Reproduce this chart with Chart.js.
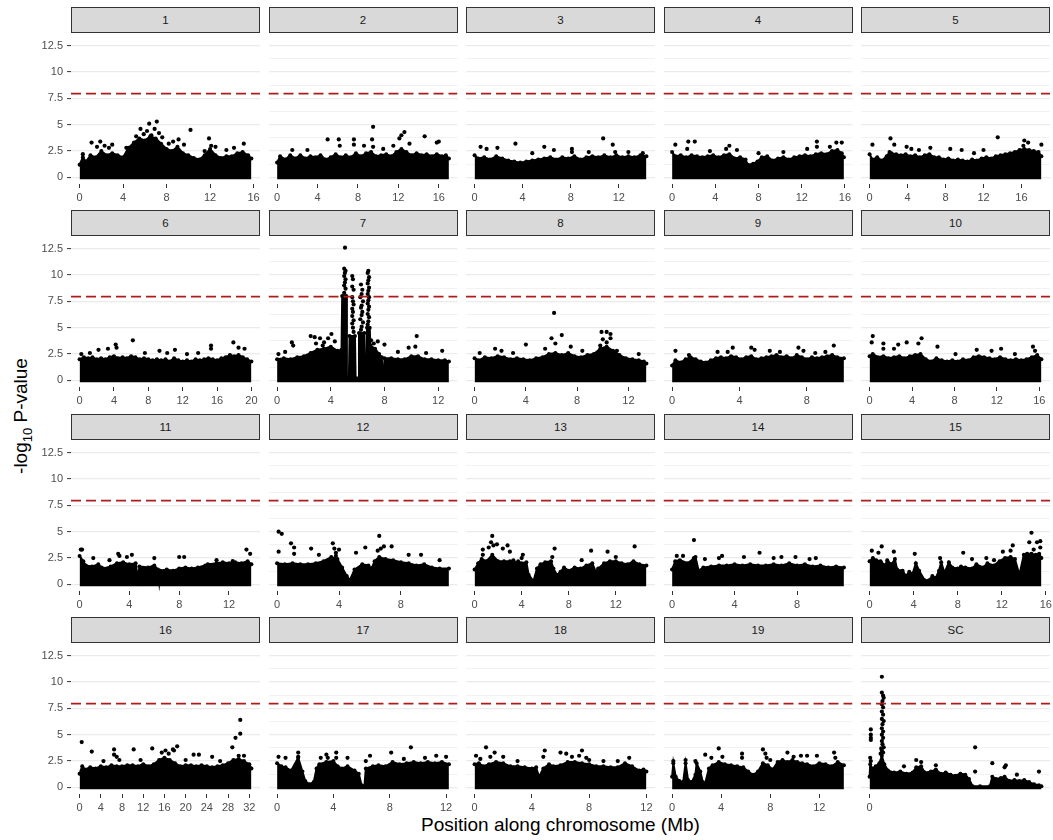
<!DOCTYPE html>
<html>
<head>
<meta charset="utf-8">
<script src="https://cdn.jsdelivr.net/npm/chart.js@4.4.1/dist/chart.umd.min.js"></script>
<style>
  html, body { margin: 0; padding: 0; background: #fff; }
  body { width: 1053px; height: 840px; position: relative; overflow: hidden;
         font-family: "Liberation Sans", Arial, sans-serif; }
  .strip { position: absolute; box-sizing: border-box; background: #D9D9D9;
           border: 1px solid #333; color: #1A1A1A; font-size: 11.5px;
           text-align: center; line-height: 24px; }
  canvas { position: absolute; }
  .xtitle { position: absolute; left: 71px; width: 979px; top: 814px;
            text-align: center; font-size: 19px; color: #000; }
  .ytitle { position: absolute; left: -128px; top: 404px; width: 300px; height: 24px;
            text-align: center; font-size: 19px; color: #000; transform: rotate(-90deg); }
  .ytitle sub { font-size: 13px; }
</style>
</head>
<body>
<div class="ytitle">-log<sub>10</sub> P-value</div>
<div class="xtitle">Position along chromosome (Mb)</div>
<script>
// Facettes : un panneau par chromosome
const chrNames = ['1', '2', '3', '4', '5', '6', '7', '8', '9', '10',
                  '11', '12', '13', '14', '15', '16', '17', '18', '19', 'SC'];
const chrLength = [15.8, 17.0, 14.3, 15.9, 18.1, 20.0, 12.8, 13.4, 10.2, 16.2,
                   13.8, 11.1, 14.6, 11.0, 15.6, 32.4, 12.2, 12.0, 14.0, 14.0];
const chrTicks = [
  [0, 4, 8, 12, 16], [0, 4, 8, 12, 16], [0, 4, 8, 12], [0, 4, 8, 12, 16], [0, 4, 8, 12, 16],
  [0, 4, 8, 12, 16, 20], [0, 4, 8, 12], [0, 4, 8, 12], [0, 4, 8], [0, 4, 8, 12, 16],
  [0, 4, 8, 12], [0, 4, 8], [0, 4, 8, 12], [0, 4, 8], [0, 4, 8, 12, 16],
  [0, 4, 8, 12, 16, 20, 24, 28, 32], [0, 4, 8, 12], [0, 4, 8, 12], [0, 4, 8, 12], [0]
];
const yTicks = [0, 1.25, 2.5, 3.75, 5, 6.25, 7.5, 8.75, 10, 11.25, 12.5];
const threshold = 7.95;

// Masse dense de SNP : hauteur du nuage [Mb, -log10 p]
const bandTop = [
  [[0,1.2],[0.3,1.9],[0.6,1.5],[1,2.1],[1.5,1.9],[2,2.5],[2.5,2.1],[3,2.3],[3.5,2.1],[4,1.9],[4.5,2.8],[5,3.3],[5.5,3.7],[6,3.5],[6.5,3.9],[7,3.7],[7.5,3.2],[8,2.7],[8.5,2.5],[9,2.9],[9.5,2.3],[10,2.1],[10.5,1.85],[11,1.7],[11.5,2.1],[12,2.7],[12.5,2.1],[13,1.85],[13.5,2.0],[14,2.0],[14.5,2.3],[15,2.4],[15.5,2.1],[15.8,1.8]],
  [[0,1.4],[0.3,2.0],[0.8,1.7],[1.3,2.1],[1.8,1.8],[2.3,2.1],[2.8,1.8],[3.3,2.0],[3.8,1.9],[4.3,2.1],[4.8,1.7],[5.3,1.9],[5.8,2.2],[6.3,1.9],[6.8,2.1],[7.3,1.9],[7.8,2.3],[8.3,2.0],[8.8,2.3],[9.3,2.4],[9.8,2.0],[10.3,2.1],[10.8,2.2],[11.3,2.0],[11.8,2.4],[12.3,2.7],[12.8,2.4],[13.3,2.1],[13.8,2.3],[14.3,2.1],[14.8,2.2],[15.3,2.0],[15.8,2.2],[16.3,2.0],[16.7,2.1],[17.0,1.8]],
  [[0,2.1],[0.3,1.8],[0.8,1.9],[1.3,1.7],[1.8,2.0],[2.3,1.8],[2.8,1.6],[3.3,1.5],[3.8,1.4],[4.3,1.5],[4.8,1.6],[5.3,1.7],[5.8,1.8],[6.3,1.9],[6.8,1.7],[7.3,1.9],[7.8,1.8],[8.3,2.0],[8.8,1.7],[9.3,1.9],[9.8,2.0],[10.3,1.9],[10.8,2.1],[11.3,1.9],[11.8,2.1],[12.3,1.9],[12.8,2.0],[13.3,1.9],[13.8,2.1],[14.3,2.0]],
  [[0,2.4],[0.3,2.0],[0.8,2.1],[1.3,1.9],[1.8,2.1],[2.3,2.0],[2.8,1.9],[3.3,2.0],[3.8,2.1],[4.3,1.9],[4.8,2.1],[5.3,2.2],[5.8,1.8],[6.3,1.9],[6.8,1.7],[7.0,1.2],[7.5,1.3],[7.9,1.5],[8.3,1.9],[8.8,2.0],[9.3,1.6],[9.8,1.8],[10.3,1.9],[10.8,1.7],[11.3,1.9],[11.8,2.0],[12.3,2.1],[12.8,2.0],[13.3,2.2],[13.8,2.3],[14.3,2.2],[14.8,2.5],[15.3,2.6],[15.7,2.3],[15.9,1.9]],
  [[0,2.2],[0.3,1.7],[0.8,1.9],[1.3,1.6],[1.8,2.0],[2.1,2.4],[2.3,2.3],[2.8,2.2],[3.3,2.1],[3.8,2.2],[4.3,2.0],[4.8,2.1],[5.3,1.9],[5.8,2.1],[6.3,2.2],[6.8,1.9],[7.3,1.9],[7.8,1.7],[8.3,1.8],[8.8,1.6],[9.3,1.7],[9.8,1.6],[10.3,1.5],[10.8,1.7],[11.3,1.6],[11.8,1.8],[12.3,1.9],[12.8,1.8],[13.3,2.0],[13.8,2.1],[14.3,2.2],[14.8,2.3],[15.3,2.4],[15.8,2.6],[16.3,2.7],[16.8,2.6],[17.3,2.5],[17.8,2.4],[18.1,2.0]],
  [[0,2.0],[0.5,2.2],[1,2.1],[1.5,2.2],[2,2.0],[2.5,2.1],[3,2.0],[3.5,2.2],[4,2.3],[4.5,2.1],[5,2.2],[5.5,2.1],[6,2.3],[6.5,2.2],[7,2.0],[7.5,2.1],[8,2.0],[8.5,1.9],[9,2.0],[9.5,1.9],[10,2.0],[10.5,1.8],[11,2.1],[11.5,1.9],[12,1.8],[12.5,1.9],[13,1.8],[13.5,2.0],[14,1.9],[14.5,2.0],[15,2.1],[15.5,2.0],[16,1.9],[16.5,2.1],[17,2.2],[17.5,2.4],[18,2.3],[18.5,2.4],[19,2.2],[19.5,2.0],[20,1.8]],
  [[0,2.0],[0.5,2.1],[1,2.0],[1.5,2.2],[2,2.3],[2.5,2.6],[3,2.9],[3.5,3.0],[4,3.2],[4.5,2.8],[4.8,2.9],[4.85,8.0],[5.15,8.0],[5.2,0.2],[5.35,0.2],[5.4,4.2],[5.8,4.2],[5.85,0.2],[6.05,0.2],[6.1,4.5],[6.5,4.5],[6.55,0.3],[6.65,0.3],[6.7,5.0],[6.9,5.0],[6.95,3.3],[7.3,3.0],[7.6,2.5],[7.8,2.2],[7.85,0.8],[7.95,0.8],[8.0,2.1],[8.5,2.1],[9,2.0],[9.5,2.0],[10,2.3],[10.5,2.3],[11,2.0],[11.5,2.0],[12,1.9],[12.5,1.9],[12.8,1.8]],
  [[0,2.1],[0.3,1.9],[0.8,2.2],[1.3,2.1],[1.8,2.3],[2.3,2.2],[2.8,2.0],[3.3,2.1],[3.8,2.0],[4.3,1.9],[4.8,2.1],[5.3,2.2],[5.8,2.5],[6.3,2.6],[6.8,2.4],[7.3,2.6],[7.8,2.3],[8.3,2.2],[8.8,2.4],[9.3,2.5],[9.8,3.0],[10.3,3.2],[10.8,2.8],[11.3,2.4],[11.8,2.1],[12.3,2.0],[12.8,1.9],[13.2,1.8],[13.4,1.6]],
  [[0,1.4],[0.2,1.9],[0.5,1.7],[0.8,2.0],[1.1,2.2],[1.4,2.0],[1.7,1.8],[2.0,1.7],[2.3,1.9],[2.6,2.1],[2.9,2.2],[3.2,2.1],[3.5,2.3],[3.8,2.2],[4.1,2.0],[4.4,2.2],[4.7,2.3],[5.0,2.0],[5.3,2.1],[5.6,2.2],[5.9,2.3],[6.2,2.4],[6.5,2.2],[6.8,2.3],[7.1,2.1],[7.4,2.4],[7.7,2.2],[8.0,2.0],[8.3,2.2],[8.6,2.1],[8.9,2.2],[9.2,2.3],[9.5,2.4],[9.8,2.2],[10.2,2.1]],
  [[0,2.3],[0.3,2.5],[0.8,2.2],[1.3,2.3],[1.8,2.1],[2.3,2.2],[2.8,2.3],[3.3,2.1],[3.8,2.3],[4.3,2.4],[4.8,2.5],[5.3,2.0],[5.8,1.8],[6.3,2.1],[6.8,1.9],[7.3,1.8],[7.8,1.9],[8.3,1.8],[8.8,2.0],[9.3,1.9],[9.8,2.2],[10.3,2.3],[10.8,2.2],[11.3,2.1],[11.8,2.0],[12.3,2.2],[12.8,2.0],[13.3,1.9],[13.8,2.0],[14.3,1.9],[14.8,2.0],[15.3,2.2],[15.8,2.4],[16.2,2.0]],
  [[0,2.7],[0.3,2.2],[0.5,1.8],[1.0,1.7],[1.5,1.9],[1.75,1.6],[1.8,0.1],[1.9,1.5],[2.5,1.7],[3.0,2.0],[3.5,2.1],[4.0,1.9],[4.5,2.0],[4.7,0.5],[4.8,1.7],[5.5,1.6],[6.0,1.8],[6.3,1.4],[6.4,0.2],[6.5,1.3],[7.0,1.4],[7.5,1.3],[8.0,1.5],[8.5,1.6],[9.0,1.5],[9.5,1.6],[10.1,1.8],[10.2,0.3],[10.3,1.9],[11.0,2.0],[11.5,2.1],[12.0,2.0],[12.5,2.1],[13.0,2.0],[13.5,2.2],[13.8,1.9]],
  [[0,2.0],[0.5,1.9],[1,2.0],[1.5,1.9],[2,1.9],[2.5,2.0],[3,2.2],[3.5,2.6],[3.9,2.4],[4.2,1.6],[4.5,0.8],[4.7,0.4],[5.0,1.4],[5.5,1.9],[5.9,1.8],[6.1,1.5],[6.3,2.2],[6.6,2.6],[7,2.4],[7.5,2.3],[8,2.1],[8.5,2.0],[9,1.8],[9.5,1.9],[10,1.6],[10.5,1.5],[11.1,1.5]],
  [[0,1.4],[0.3,2.0],[0.6,2.4],[1,2.2],[1.5,2.8],[2,2.2],[2.5,2.2],[3,2.2],[3.3,2.3],[3.5,2.0],[3.7,2.2],[4.0,2.0],[4.4,2.1],[4.6,0.9],[5.0,0.3],[5.3,1.5],[5.6,1.9],[6.0,2.1],[6.5,2.2],[6.7,1.5],[7.0,0.9],[7.3,1.2],[7.6,1.6],[8.0,1.3],[8.5,1.6],[9,1.5],[9.5,1.8],[10,2.0],[10.3,1.2],[10.5,1.5],[11,2.0],[11.5,2.2],[12,2.2],[12.5,2.0],[13,1.9],[13.5,2.2],[14,1.9],[14.6,1.8]],
  [[0,1.4],[0.2,2.2],[0.5,2.3],[1.0,2.0],[1.5,2.6],[1.7,1.3],[2.0,1.6],[2.5,1.7],[3.0,1.8],[3.5,1.8],[4,1.9],[4.5,1.8],[5,1.9],[5.5,1.8],[6,1.8],[6.5,1.9],[7,1.8],[7.5,2.0],[8,1.8],[8.5,1.9],[9,1.7],[9.5,1.8],[10,1.6],[10.5,1.7],[11,1.6]],
  [[0,2.2],[0.3,2.5],[0.6,2.3],[1,2.2],[1.4,1.8],[1.6,2.3],[2,1.9],[2.3,2.4],[2.5,1.4],[3,1.3],[3.3,0.8],[3.6,1.2],[3.9,1.0],[4.2,2.0],[4.5,1.3],[5.0,0.4],[5.4,0.4],[5.7,0.8],[6.0,0.6],[6.3,1.3],[6.5,2.1],[6.8,1.1],[7.2,2.1],[7.5,1.6],[8,1.5],[8.3,1.7],[8.7,1.6],[9.3,1.5],[9.7,1.9],[10.3,1.6],[10.7,2.0],[11.3,1.8],[11.8,2.2],[12.3,2.5],[12.8,2.6],[13.2,2.4],[13.6,0.9],[14.0,2.8],[14.3,2.9],[14.7,2.9],[15.1,2.8],[15.4,2.9],[15.6,2.5]],
  [[0,1.3],[0.5,2.0],[1,1.7],[2,1.9],[3,1.8],[4,2.0],[5,1.9],[6,2.1],[7,2.0],[8,2.0],[9,2.1],[10,2.1],[11,2.0],[12,2.2],[13,2.0],[14,2.2],[15,2.6],[16,2.8],[17,2.6],[18,2.3],[19,2.0],[20,2.1],[21,2.1],[22,2.0],[23,2.1],[24,2.0],[25,1.9],[26,2.0],[27,2.1],[28,2.3],[29,2.6],[30,2.7],[31,2.5],[32,2.2],[32.4,1.8]],
  [[0,2.3],[0.3,2.0],[0.6,1.9],[1.0,1.6],[1.5,2.8],[1.8,1.5],[2.0,0.6],[2.3,0.3],[2.6,0.5],[2.8,1.8],[3.0,2.2],[3.5,2.4],[4.0,2.5],[4.3,2.0],[4.6,1.8],[5.0,2.0],[5.5,1.6],[5.8,1.3],[6.0,0.2],[6.2,0.1],[6.3,1.8],[6.8,2.0],[7.2,2.1],[7.7,2.0],[8.2,2.4],[8.7,2.2],[9.2,2.3],[9.7,2.4],[10.2,2.3],[10.7,2.4],[11.2,2.3],[11.7,2.4],[12.2,2.2]],
  [[0,2.2],[0.3,2.3],[0.6,2.0],[1,2.2],[1.5,2.4],[2,2.3],[2.5,2.0],[3,2.0],[3.5,1.9],[4,1.8],[4.3,1.9],[4.5,1.0],[4.8,1.8],[5.2,2.2],[5.5,2.0],[6,2.1],[6.5,2.4],[7,2.4],[7.5,2.3],[8,2.2],[8.5,2.0],[9,2.0],[9.5,1.9],[10,1.9],[10.5,2.3],[11,2.0],[11.5,1.6],[11.8,1.7],[12.0,1.5]],
  [[0,1.0],[0.1,2.3],[0.3,1.0],[0.6,0.6],[0.9,0.5],[1.1,2.3],[1.3,0.7],[1.6,0.5],[1.9,1.2],[2.0,2.3],[2.3,1.5],[2.5,0.5],[2.7,0.4],[3.0,1.8],[3.3,2.1],[3.8,2.4],[4.3,2.2],[4.8,2.1],[5.3,2.0],[5.8,1.9],[6.2,1.5],[6.6,1.2],[7.0,1.5],[7.4,2.3],[7.8,2.1],[8.2,1.7],[8.6,2.4],[9.0,2.6],[9.4,2.4],[9.8,2.6],[10.2,2.4],[10.6,2.3],[11.0,2.2],[11.5,2.0],[12,2.3],[12.5,2.2],[13,2.0],[13.5,2.4],[14,2.1]],
  [[0,1.0],[0.05,2.2],[0.2,1.8],[0.5,2.0],[0.8,2.3],[1.0,3.0],[1.2,2.2],[1.5,1.6],[2.0,1.4],[2.5,1.5],[3.0,1.3],[3.5,1.4],[3.8,1.9],[4.2,2.0],[4.5,1.4],[5,1.5],[5.4,1.7],[5.8,1.3],[6.2,1.4],[6.6,1.2],[7.0,1.1],[7.4,1.3],[7.8,1.2],[8.1,0.8],[8.4,0.1],[9.0,0.1],[9.8,0.1],[10.0,1.0],[10.3,0.8],[10.7,0.9],[11.0,1.0],[11.4,0.6],[11.8,0.7],[12.2,0.6],[12.6,0.7],[13.0,0.5],[13.4,0.3],[13.8,0.2],[14.0,0.1]]
];

// SNP isolés au-dessus du nuage [Mb, -log10 p]
const peaks = [
  [[6.4,5.1],[7.1,5.3],[10.2,4.5],[5.6,4.6],[6.2,4.4],[7.3,4.2],[6.6,4.0],[5.2,3.9],[7.6,3.8],[11.9,3.7],[9.1,3.6],[1.9,3.4],[1.1,3.3],[15.1,3.2],[3.0,3.1],[8.6,3.4],[9.6,3.1],[12.1,3.0],[12.5,2.9],[14.2,2.8],[13.5,2.6],[4.3,2.8],[2.3,3.0],[0.3,2.2],[8.2,3.2],[6.9,4.6],[5.9,4.1],[2.7,2.8],[1.6,2.9],[11.5,2.5]],
  [[9.5,4.8],[12.6,4.3],[12.3,4.0],[12.1,3.7],[14.6,3.9],[5.0,3.6],[6.1,3.6],[7.6,3.6],[9.4,3.6],[16.0,3.4],[6.2,3.0],[7.6,3.1],[9.5,2.9],[11.5,3.0],[8.6,3.0],[13.1,3.2],[15.8,3.3],[1.5,2.6],[3.0,2.6],[10.5,2.7]],
  [[3.4,3.2],[10.7,3.7],[11.5,3.1],[0.5,2.9],[1.0,2.7],[1.9,2.8],[5.8,2.9],[6.6,2.6],[8.1,2.7],[11.7,2.4],[14.0,2.3],[8.1,2.4],[4.8,2.3],[9.5,2.4],[12.8,2.4]],
  [[1.5,3.4],[2.1,3.4],[0.3,3.1],[5.3,3.0],[13.4,3.4],[15.2,3.3],[15.7,3.3],[13.4,2.9],[12.5,2.7],[14.6,2.9],[1.4,2.7],[6.0,2.6],[8.0,2.3],[5.0,2.7],[3.5,2.5],[10.3,2.4]],
  [[2.2,3.7],[13.5,3.8],[16.3,3.5],[16.7,3.3],[18.1,3.1],[0.3,3.1],[3.9,2.9],[6.4,2.8],[8.5,2.7],[12.0,2.6],[9.7,2.6],[2.6,3.1],[4.4,2.7],[16.2,3.0],[5.2,2.6],[11.0,2.3]],
  [[6.2,3.8],[4.2,3.4],[3.3,3.0],[2.2,2.9],[15.3,3.3],[17.9,3.6],[18.5,3.1],[19.2,3.0],[11.1,2.9],[10.2,2.6],[0.2,2.5],[9.3,2.8],[13.8,2.6],[15.3,3.0],[4.3,3.1],[1.2,2.6],[7.6,2.6],[12.5,2.5]],
  [[5.06,12.6],[5.0,10.6],[5.1,10.4],[5.05,10.2],[5.0,9.9],[5.1,9.6],[5.05,9.3],[5.0,9.0],[5.1,8.7],[5.0,8.3],
   [5.6,9.9],[5.65,9.6],[5.6,8.9],[5.7,8.6],[5.6,7.9],[5.65,7.5],[5.7,7.2],[5.6,6.8],[5.65,6.5],[5.6,6.1],[5.7,5.7],[5.6,5.4],[5.65,5.0],[5.7,4.6],
   [6.25,9.1],[6.35,8.6],[6.3,8.2],[6.2,7.9],[6.4,7.5],[6.3,7.1],[6.25,6.9],[6.35,6.5],[6.3,6.2],[6.2,5.8],[6.4,5.5],[6.3,5.1],[6.25,4.8],
   [6.8,10.4],[6.75,10.2],[6.85,9.8],[6.8,9.5],[6.75,9.2],[6.85,8.8],[6.8,8.5],[6.75,8.2],[6.85,7.9],[6.8,7.6],[6.75,7.3],[6.85,7.0],[6.8,6.7],[6.75,6.3],[6.85,6.0],[6.8,5.6],[6.75,5.3],
   [1.1,3.6],[1.2,3.3],[2.5,4.2],[2.8,4.1],[3.2,4.0],[3.5,3.6],[4.05,4.4],[3.8,4.0],[4.3,3.7],[2.9,3.5],[3.4,3.3],
   [10.4,4.2],[7.5,3.7],[7.0,3.8],[7.2,3.5],[8.0,3.4],[9.8,3.1],[10.3,3.2],[12.3,2.8],[11.1,2.6],[9.0,2.7],[0.1,2.5],[0.6,2.7]],
  [[6.2,6.4],[6.0,4.0],[6.3,3.5],[6.8,4.3],[4.0,3.4],[7.5,3.2],[9.9,4.6],[10.3,4.6],[10.6,4.4],[10.6,4.0],[10.0,3.9],[9.8,3.3],[11.1,2.8],[12.8,2.5],[8.4,2.8],[1.6,3.0],[2.1,2.8],[10.3,3.6],[5.5,3.0],[0.4,2.6],[3.0,2.6]],
  [[0.2,2.8],[3.6,3.1],[4.7,3.1],[4.9,2.9],[6.4,2.7],[7.5,3.1],[7.8,2.8],[9.6,3.3],[9.1,2.7],[2.7,2.7],[1.0,2.4],[3.3,2.7],[5.8,2.8],[8.5,2.6]],
  [[0.3,4.2],[0.2,3.6],[1.3,3.5],[2.7,3.4],[3.5,3.6],[4.9,4.0],[4.6,3.5],[6.4,3.2],[10.1,2.9],[11.5,2.8],[12.4,3.0],[15.4,3.2],[15.6,2.8],[2.3,3.0],[1.3,3.0],[8.1,2.5],[13.7,2.5]],
  [[0.1,3.3],[0.2,3.3],[1.1,2.5],[2.4,2.3],[3.1,2.9],[3.2,2.7],[3.8,2.6],[4.2,2.8],[6.0,2.5],[8.0,2.6],[8.4,2.6],[11.0,2.3],[13.4,3.3],[13.7,2.9],[12.3,2.2]],
  [[0.1,5.0],[0.3,4.8],[0.1,3.1],[0.9,3.9],[1.1,3.5],[1.1,2.9],[2.2,3.4],[2.7,2.8],[3.6,3.9],[3.7,3.4],[3.8,3.0],[4.0,3.3],[3.8,2.7],[5.1,3.0],[5.7,3.5],[6.6,4.6],[6.7,3.4],[6.9,3.6],[7.4,3.6],[6.5,3.2],[8.5,2.8],[9.3,2.8],[10.5,2.3]],
  [[1.5,4.6],[1.4,4.0],[1.6,3.7],[1.2,3.5],[1.9,3.8],[2.4,3.4],[2.8,3.7],[3.0,3.1],[0.7,3.3],[0.7,2.8],[4.1,2.8],[4.0,2.5],[6.8,3.4],[6.6,2.6],[9.9,3.2],[11.3,3.1],[13.6,3.6],[12.0,2.6],[9.1,2.3]],
  [[1.4,4.2],[0.3,2.7],[0.7,2.7],[1.4,2.5],[3.0,2.5],[5.6,3.0],[4.6,2.6],[6.5,2.5],[7.0,2.6],[7.9,2.6],[8.8,2.4],[9.2,2.5],[3.2,2.7],[2.1,2.4]],
  [[14.7,4.9],[14.5,4.0],[15.2,4.0],[15.5,4.1],[14.9,3.3],[15.5,3.5],[13.0,3.7],[12.8,3.2],[12.1,3.1],[1.1,3.6],[0.2,3.2],[0.8,3.0],[2.2,3.1],[4.1,2.9],[6.4,2.5],[8.5,3.0],[9.3,2.4],[10.6,2.5],[11.3,2.3]],
  [[0.4,4.3],[2.3,3.4],[6.5,3.6],[6.5,3.1],[7.0,2.9],[10.2,3.6],[13.7,3.7],[16.2,3.5],[17.6,3.6],[18.4,3.9],[17.8,3.5],[15.5,3.3],[21.5,3.1],[22.5,3.1],[25.0,2.9],[28.8,3.8],[29.4,4.7],[30.3,5.1],[30.3,6.4],[30.0,3.0],[31.0,3.0],[7.5,2.6],[16.8,3.2],[4.5,2.5],[11.5,2.6],[20.0,2.6],[26.5,2.5]],
  [[0.1,2.9],[0.6,2.8],[1.5,3.3],[1.5,2.9],[3.1,2.8],[3.5,3.1],[3.6,2.8],[4.2,3.3],[4.2,2.8],[5.0,2.8],[6.3,2.5],[6.6,3.0],[8.1,3.3],[9.5,3.8],[12.0,2.9],[11.3,3.0],[9.0,2.7],[10.5,2.8]],
  [[0.1,3.0],[0.8,3.8],[1.4,3.3],[1.1,2.9],[0.4,2.7],[2.0,2.9],[4.9,3.5],[4.8,2.9],[6.0,3.3],[6.4,3.2],[6.8,2.9],[7.3,3.0],[7.5,3.5],[7.8,2.8],[8.0,2.6],[10.8,2.8],[10.0,2.5],[3.0,2.5],[9.0,2.5]],
  [[0.1,2.5],[1.1,2.6],[1.9,2.5],[2.7,3.1],[3.2,2.8],[3.8,3.7],[4.1,2.9],[5.7,3.2],[5.7,2.8],[7.4,3.6],[7.6,3.2],[7.7,2.8],[8.0,2.6],[9.4,3.3],[10.5,3.0],[11.8,3.0],[13.2,3.3],[13.3,2.8],[11.0,3.0],[9.9,2.9]],
  [[1.0,10.5],[1.0,9.0],[1.1,8.7],[1.15,8.5],[1.05,8.2],[1.0,7.9],[1.1,7.6],[1.0,7.2],[1.1,6.9],[1.0,6.5],[1.15,6.3],[1.05,6.0],[1.0,5.6],[1.1,5.3],[1.0,5.0],[1.1,4.7],[1.0,4.4],[1.05,4.1],[1.15,3.8],[1.0,3.5],[1.1,3.3],
   [0.1,5.5],[0.1,5.0],[0.1,4.7],[0.1,4.5],[0.05,2.8],[0.1,2.5],[0.9,3.2],[0.95,3.7],
   [8.6,3.8],[10.0,2.3],[11.0,1.9],[11.1,2.1],[13.8,1.5],[3.8,2.6],[4.2,2.4],[5.4,2.1],[2.8,2.0],[8.6,1.5],[12.0,1.2]]
];

// Mise en page des facettes (5 colonnes x 4 lignes)
const COL_LEFT = [71, 268.5, 466, 663.5, 861];
const PANEL_W = 189;
const PANEL_H = 150;
const ROW_TOP = [34, 237.4, 440.8, 644.2];
const Y_MIN = -0.63, Y_MAX = 13.23;
const AXIS_W = 52, AXIS_H = 26, PAD = 8;

Chart.defaults.font.family = '"Liberation Sans", Arial, sans-serif';

const isMajor = v => Math.abs(v / 2.5 - Math.round(v / 2.5)) < 1e-6;

chrNames.forEach((name, i) => {
  const col = i % 5, row = Math.floor(i / 5);
  const left = COL_LEFT[col], top = Math.round(ROW_TOP[row]);
  const yw = col === 0 ? AXIS_W : 0;

  // bandeau gris du titre de facette
  const strip = document.createElement('div');
  strip.className = 'strip';
  strip.style.left = left + 'px';
  strip.style.top = (top - 27) + 'px';
  strip.style.width = PANEL_W + 'px';
  strip.style.height = '26px';
  strip.textContent = name;
  document.body.appendChild(strip);

  const cLeft = Math.floor(left) - PAD - yw;
  const padL = left - cLeft - yw;
  const cWidth = Math.ceil(yw + padL + PANEL_W + PAD);
  const padR = cWidth - yw - padL - PANEL_W;

  const canvas = document.createElement('canvas');
  canvas.width = cWidth;
  canvas.height = PANEL_H + AXIS_H;
  canvas.style.left = cLeft + 'px';
  canvas.style.top = top + 'px';
  canvas.style.width = cWidth + 'px';
  canvas.style.height = (PANEL_H + AXIS_H) + 'px';
  document.body.appendChild(canvas);

  const L = chrLength[i];
  const xMin = -0.05 * L, xMax = 1.05 * L;
  const toXY = p => ({ x: p[0], y: p[1] });

  new Chart(canvas.getContext('2d'), {
    type: 'scatter',
    data: {
      datasets: [
        {
          type: 'line',
          data: [{ x: xMin, y: threshold }, { x: xMax, y: threshold }],
          borderColor: '#AE1C1C',
          borderWidth: 1.7,
          borderDash: [10, 5],
          pointRadius: 0,
          fill: false,
          order: 0
        },
        {
          data: peaks[i].map(toXY),
          pointRadius: 2.1,
          pointBackgroundColor: '#000',
          pointBorderWidth: 0,
          order: 1
        },
        {
          type: 'line',
          data: bandTop[i].map(toXY),
          borderColor: '#000',
          backgroundColor: '#000',
          borderWidth: 2,
          pointRadius: 2,
          pointBackgroundColor: '#000',
          pointBorderWidth: 0,
          tension: 0,
          fill: { value: -0.19 },
          order: 2
        }
      ]
    },
    options: {
      responsive: false,
      animation: false,
      events: [],
      layout: { padding: { left: padL, right: padR, top: 0, bottom: 0 } },
      plugins: { legend: { display: false }, tooltip: { enabled: false } },
      scales: {
        x: {
          type: 'linear',
          min: xMin,
          max: xMax,
          border: { display: false },
          grid: {
            drawOnChartArea: false,
            drawTicks: true,
            tickLength: 4,
            tickColor: '#333333',
            tickWidth: 1
          },
          ticks: {
            color: '#4D4D4D',
            font: { size: 11 },
            padding: 3,
            maxRotation: 0,
            autoSkip: false,
            callback: v => String(v)
          },
          afterBuildTicks: s => { s.ticks = chrTicks[i].map(v => ({ value: v })); },
          afterFit: s => { s.height = AXIS_H; s.paddingLeft = 0; s.paddingRight = 0; }
        },
        y: {
          type: 'linear',
          min: Y_MIN,
          max: Y_MAX,
          border: { display: false },
          grid: {
            color: c => (c.tick && isMajor(c.tick.value)) ? '#EBEBEB' : '#F1F1F1',
            lineWidth: c => (c.tick && isMajor(c.tick.value)) ? 1.2 : 0.9,
            drawTicks: col === 0,
            tickLength: 4,
            tickWidth: 1,
            tickColor: c => (c.tick && isMajor(c.tick.value)) ? '#333333' : 'rgba(0,0,0,0)'
          },
          ticks: {
            display: col === 0,
            color: '#4D4D4D',
            font: { size: 11 },
            padding: 4,
            callback: v => isMajor(v) ? String(v) : ''
          },
          afterBuildTicks: s => { s.ticks = yTicks.map(v => ({ value: v })); },
          afterFit: s => { s.width = yw; s.paddingTop = 0; s.paddingBottom = 0; }
        }
      }
    }
  });
});
</script>
</body>
</html>
